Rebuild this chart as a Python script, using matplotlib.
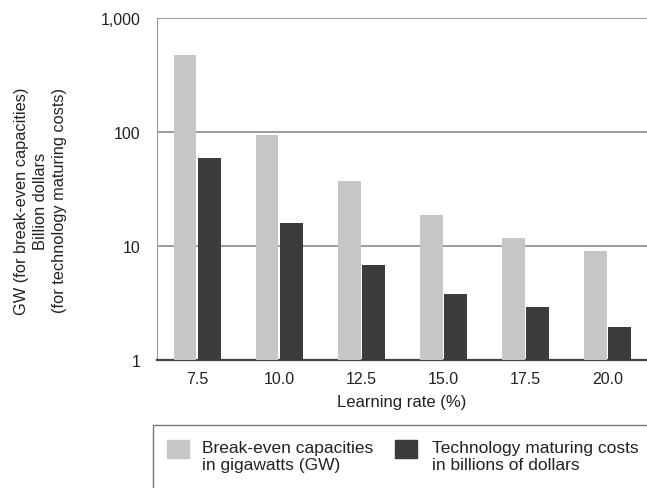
import numpy as np
import matplotlib
matplotlib.use('Agg')
import matplotlib.pyplot as plt
from matplotlib.patches import Rectangle

plt.rcParams['font.family'] = ['Liberation Sans', 'DejaVu Sans']

rates = ['7.5', '10.0', '12.5', '15.0', '17.5', '20.0']
break_even_gw = [473, 94, 37, 18.7, 11.8, 9.0]
maturing_cost = [59, 15.8, 6.8, 3.8, 2.9, 1.95]

fig = plt.figure(figsize=(6.47, 4.89), dpi=100)
ax = fig.add_axes([0.2427, 0.2618, 0.7573, 0.7])

x = np.arange(len(rates))
w = 0.275
light = '#c6c6c6'
dark = '#3c3c3c'
ax.bar(x - w/2 - 0.01, np.array(break_even_gw) - 1, w, bottom=1, color=light, zorder=3)
ax.bar(x + w/2 + 0.01, np.array(maturing_cost) - 1, w, bottom=1, color=dark, zorder=3)

ax.set_yscale('log')
ax.set_ylim(1, 1000)
ax.set_xlim(-0.49, 5.48)
ax.set_yticks([1, 10, 100, 1000])
ax.set_yticklabels(['1', '10', '100', '1,000'])
ax.minorticks_off()
ax.set_xticks(x)
ax.set_xticklabels(rates)
ax.tick_params(axis='both', length=0, labelsize=11.5, colors='#222222')
ax.tick_params(axis='y', pad=12)
ax.tick_params(axis='x', pad=8)
for v in [10, 100, 1000]:
    ax.axhline(v, color='#8a8a8a', lw=1.2, zorder=1)
for s in ['top', 'right']:
    ax.spines[s].set_visible(False)
ax.spines['left'].set_color('#999999')
ax.spines['left'].set_linewidth(0.8)
ax.spines['bottom'].set_color('#444444')
ax.spines['bottom'].set_linewidth(1.6)

ax.set_xlabel('Learning rate (%)', fontsize=12, color='#222222', labelpad=6)
fig.text(0.063, 0.589, 'GW (for break-even capacities)\nBillion dollars\n(for technology maturing costs)',
         rotation=90, ha='center', va='center', fontsize=11.8, color='#222222', linespacing=1.35)

# legend box (runs off the bottom/right of the figure)
fig.patches.append(Rectangle((153/647, -0.05), 0.8, (489-426)/489 + 0.05,
                             transform=fig.transFigure, fill=False,
                             edgecolor='#777777', lw=1.0))
fig.patches.append(Rectangle((167/647, 1-459/489), 22/647, 18/489,
                             transform=fig.transFigure, color=light))
fig.patches.append(Rectangle((395/647, 1-459/489), 22/647, 18/489,
                             transform=fig.transFigure, color=dark))
fig.text(202/647, 1-457/489, 'Break-even capacities\nin gigawatts (GW)',
         ha='left', va='center', fontsize=12.5, color='#222222', linespacing=1.1)
fig.text(432/647, 1-457/489, 'Technology maturing costs\nin billions of dollars',
         ha='left', va='center', fontsize=12.5, color='#222222', linespacing=1.1)

fig.savefig('out.png', dpi=100)
